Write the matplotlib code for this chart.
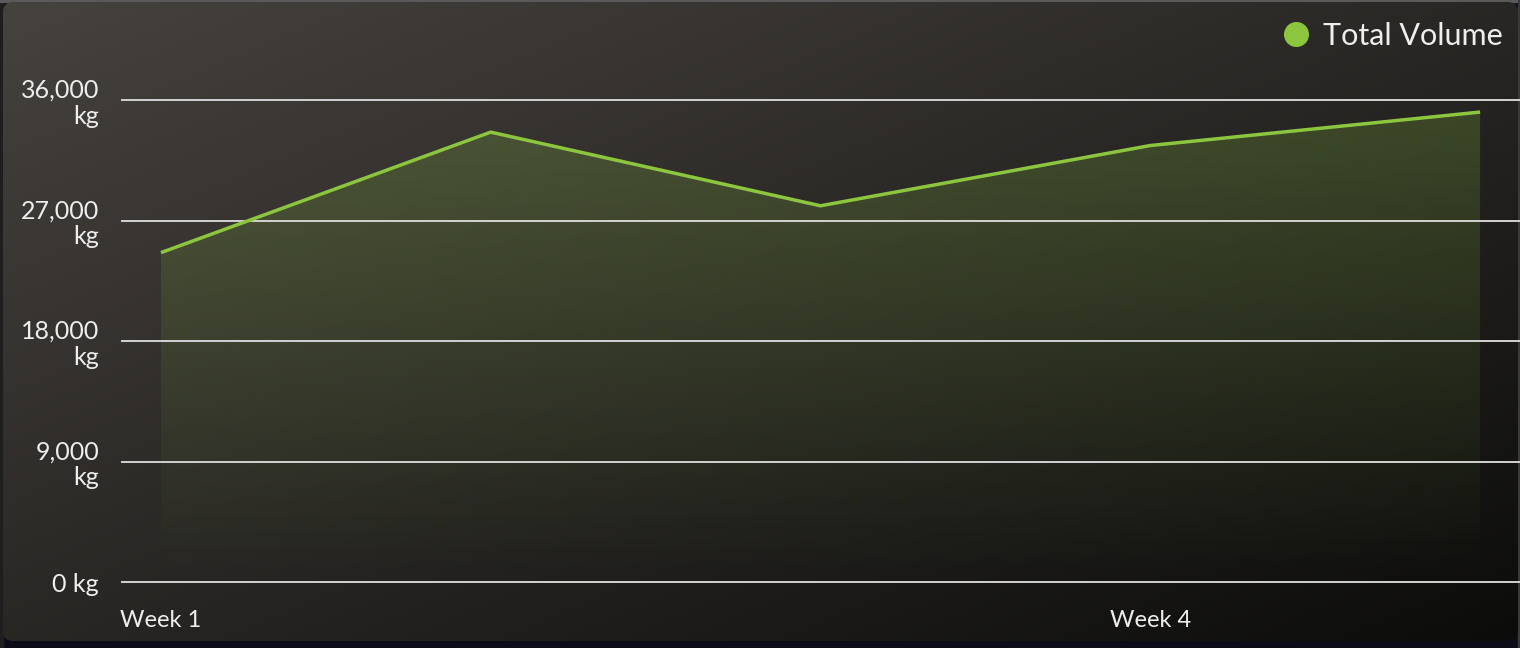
import numpy as np
import matplotlib
matplotlib.use("Agg")
import matplotlib.pyplot as plt
from matplotlib.patches import FancyBboxPatch, Rectangle
from matplotlib.lines import Line2D

# ---- data ----
categories = ["Week 1", "Week 2", "Week 3", "Week 4", "Week 5"]
total_volume = [24600, 33600, 28100, 32600, 35100]
shown_xticks = [0, 3]
y_ticks = [0, 9000, 18000, 27000, 36000]
y_tick_labels = ["0 kg", "9,000\nkg", "18,000\nkg", "27,000\nkg", "36,000\nkg"]
series_name = "Total Volume"

GREEN = "#8cc63f"
TEXT = "#eeeeee"
GRID = "#d2d2d2"

plt.rcParams['font.family'] = ['Lato', 'DejaVu Sans']

W, H = 1520, 648
fig = plt.figure(figsize=(W / 100, H / 100), dpi=100)
fig.patch.set_facecolor("#0c0b18")

# ---- background card with diagonal gradient ----
bg = fig.add_axes([0, 0, 1, 1])
bg.set_xlim(0, W)
bg.set_ylim(H, 0)
bg.axis("off")
bg.add_patch(Rectangle((0, 0), 3, H, color="#1e1e1e", zorder=0))
bg.add_patch(Rectangle((0, 0), W, 2, color="#5a5a5a", zorder=0))
bg.add_patch(Rectangle((W - 2, 0), 2, H, color="#3a3a3a", zorder=0))
nx, ny = 400, 200
gx, gy = np.meshgrid(np.linspace(0, 1, nx), np.linspace(0, 1, ny))
t = (gx + gy) / 2.0
c0 = np.array([70, 66, 62]) / 255.0
c1 = np.array([12, 12, 11]) / 255.0
img = c0[None, None, :] * (1 - t[..., None]) + c1[None, None, :] * t[..., None]
card = FancyBboxPatch((3, 2), W - 5, 639, boxstyle="round,pad=0,rounding_size=10",
                      facecolor="none", edgecolor="none")
bg.add_patch(card)
im_bg = bg.imshow(img, extent=(3, W - 2, 641, 2), aspect="auto", zorder=1, interpolation="bilinear")
im_bg.set_clip_path(card)
bg.set_xlim(0, W)
bg.set_ylim(H, 0)

# ---- main chart ----
left, right = 122, 1520
top, bottom = 100, 582
ax = fig.add_axes([left / W, (H - bottom) / H, (right - left) / W, (bottom - top) / H])
ax.set_facecolor("none")
x = np.arange(len(categories))

poly = ax.fill_between(x, total_volume, 0, color="none", linewidth=0)
n = 256
alpha = np.linspace(0.0, 0.23, n)
grad = np.zeros((n, 1, 4))
grad[..., 0:3] = matplotlib.colors.to_rgb(GREEN)
grad[:, 0, 3] = alpha
im = ax.imshow(grad, extent=(x[0], x[-1], 0, 36000), origin="lower", aspect="auto",
               zorder=1, interpolation="bilinear")
im.set_clip_path(poly.get_paths()[0], transform=ax.transData)

for v in y_ticks:
    ax.axhline(v, color=GRID, lw=1.4, zorder=2, clip_on=False)

ax.plot(x, total_volume, color=GREEN, lw=2.5, zorder=3, solid_joinstyle="miter",
        solid_capstyle="butt", clip_on=False)

ax.set_xlim(-0.118, 4.121)
ax.set_ylim(0, 36000)
for s in ax.spines.values():
    s.set_visible(False)

ax.set_yticks(y_ticks)
ax.set_yticklabels(y_tick_labels)
ax.set_xticks(shown_xticks)
ax.set_xticklabels([categories[i] for i in shown_xticks])
ax.tick_params(axis="y", length=0, pad=16.5, labelsize=18, labelcolor=TEXT)
ax.tick_params(axis="x", length=0, pad=20, labelsize=17, labelcolor=TEXT)
for lbl in ax.get_yticklabels():
    lbl.set_linespacing(1.15)

handle = Line2D([], [], marker="o", markersize=17, linestyle="none",
                markerfacecolor=GREEN, markeredgecolor=GREEN)
leg = ax.legend([handle], [series_name], loc="center right",
                bbox_to_anchor=(1503 / W, 1 - 36 / H), bbox_transform=fig.transFigure,
                frameon=False, fontsize=22, handlelength=1.0, handletextpad=0.4,
                borderpad=0, borderaxespad=0)
for txt in leg.get_texts():
    txt.set_color(TEXT)

fig.savefig("out.png", dpi=100, facecolor=fig.get_facecolor())
